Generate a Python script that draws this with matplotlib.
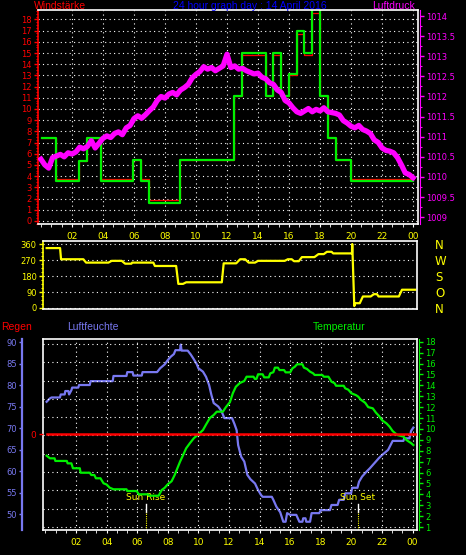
import numpy as np
import matplotlib
matplotlib.use('Agg')
import matplotlib.pyplot as plt
import matplotlib.transforms as mtransforms
from matplotlib.ticker import MultipleLocator

plt.rcParams['font.family'] = ['Liberation Sans Narrow', 'DejaVu Sans']

# ---- data ----
# wind (step changes: hour, value)
wind_hours = [0.04, 0.95, 2.45, 2.95, 3.9, 5.96, 6.45, 6.95, 8.97, 12.45, 12.99, 14.5,
              14.99, 15.48, 16.0, 16.5, 16.99, 17.46, 18.0, 18.5, 19.01, 19.98, 23.98]
wind_gust = [7.44, 3.6, 5.39, 7.44, 3.6, 5.45, 3.6, 1.64, 5.45, 11.13, 15.03, 11.13,
             15.03, 11.13, 13.1, 16.96, 15.03, 19.5, 11.13, 7.44, 5.45, 3.6, 3.6]
wind_avg = [7.44, 3.75, 5.39, 7.44, 3.75, 5.45, 3.75, 1.87, 5.45, 11.13, 14.82, 11.13,
            14.82, 11.13, 13.0, 16.67, 14.82, 18.54, 11.13, 7.44, 5.45, 3.75, 3.75]

press_hours = np.arange(0, 24.01, 0.25)
pressure = [1010.44, 1010.30, 1010.22, 1010.48, 1010.52, 1010.56, 1010.50, 1010.60,
            1010.57, 1010.62, 1010.74, 1010.70, 1010.76, 1010.90, 1010.72, 1010.84,
            1010.96, 1011.02, 1010.98, 1011.08, 1011.12, 1011.05, 1011.22, 1011.28,
            1011.45, 1011.52, 1011.46, 1011.55, 1011.65, 1011.74, 1011.90, 1012.00,
            1011.96, 1012.06, 1012.10, 1012.04, 1012.16, 1012.22, 1012.30, 1012.46,
            1012.55, 1012.62, 1012.74, 1012.68, 1012.72, 1012.64, 1012.70, 1012.76,
            1013.05, 1012.72, 1012.76, 1012.68, 1012.70, 1012.64, 1012.60, 1012.56,
            1012.58, 1012.48, 1012.44, 1012.34, 1012.30, 1012.16, 1012.10, 1011.90,
            1011.84, 1011.72, 1011.62, 1011.58, 1011.64, 1011.70, 1011.62, 1011.68,
            1011.64, 1011.72, 1011.62, 1011.60, 1011.58, 1011.54, 1011.40, 1011.34,
            1011.26, 1011.22, 1011.28, 1011.18, 1011.14, 1011.08, 1010.92, 1010.86,
            1010.72, 1010.66, 1010.64, 1010.60, 1010.48, 1010.30, 1010.10, 1010.06,
            1009.98]

dir_hours = [0.38, 1.24, 1.3, 2.73, 2.9, 4.33, 4.54, 5.18, 5.4, 5.8, 5.85, 7.2, 7.3, 8.66,
             8.8, 9.1, 9.3, 11.58, 11.7, 12.5, 12.75, 13.07, 13.3, 13.7, 13.9, 15.6, 15.8,
             16.05, 16.2, 16.5, 16.7, 17.5, 17.76, 18.1, 18.3, 18.6, 18.7, 19.9, 19.92,
             20.05, 20.1, 20.4, 20.6, 21.1, 21.3, 21.5, 21.6, 22.9, 23.1, 23.95]
dir_deg = [338, 338, 275, 275, 256, 256, 266, 266, 250, 250, 256, 256, 237, 237,
           136, 136, 145, 145, 252, 252, 275, 275, 256, 256, 266, 266, 275,
           275, 264, 264, 287, 287, 304, 304, 317, 317, 308, 308, 361,
           11, 27, 27, 65, 65, 78, 78, 65, 65, 103, 103]

hum_hours = [0.08, 0.3, 0.4, 0.95, 1.0, 1.26, 1.3, 1.5, 1.55, 1.7, 1.75, 2.15, 2.2, 2.9,
             2.95, 4.4, 4.45, 5.3, 5.35, 5.7, 5.75, 6.3, 6.35, 7.3, 7.5, 7.8, 8.0, 8.2,
             8.4, 8.5, 8.8, 8.85, 8.9, 9.3, 9.5, 9.7, 9.9, 10.0, 10.3, 10.5, 10.7, 10.85,
             11.0, 11.3, 11.5, 11.7, 12.2, 12.35, 12.5, 12.6, 12.8, 13.0, 13.2, 13.4,
             13.7, 13.9, 14.1, 14.2, 14.8, 14.9, 15.1, 15.35, 15.55, 15.7, 15.8, 16.0,
             16.4, 16.5, 16.6, 16.8, 16.85, 17.0, 17.05, 17.3, 17.4, 17.9, 18.0, 18.6,
             18.7, 19.1, 19.2, 19.5, 19.6, 19.98, 20.05, 20.4, 20.5, 20.7, 20.95, 21.2,
             21.5, 21.8, 22.0, 22.4, 22.7, 23.4, 23.45, 23.8, 23.9, 24.05]
humidity = [76.1, 76.9, 77.1, 77.1, 77.8, 77.8, 78.6, 78.6, 77.8, 78.8, 79.4, 79.4, 80.0, 80.0,
            80.9, 80.9, 82.1, 82.1, 83.0, 83.0, 82.2, 82.2, 83.0, 83.0, 83.9, 84.8, 85.8, 86.6,
            87.2, 88.1, 88.1, 89.4, 88.0, 88.0, 87.1, 86.0, 84.8, 83.9, 83.1, 81.9, 80.0, 77.7,
            75.8, 75.0, 74.0, 72.3, 72.3, 71.0, 69.5, 66.0, 63.3, 62.2, 59.1, 58.1,
            57.1, 55.6, 54.4, 54.0, 54.0, 53.3, 51.7, 50.4, 48.2, 48.2, 50.2, 49.8,
            49.8, 49.0, 48.2, 48.2, 49.0, 49.0, 48.2, 48.2, 50.2, 50.2, 50.9, 50.9,
            52.1, 52.1, 53.3, 53.3, 54.8, 54.8, 56.1, 56.1, 57.5, 58.7, 59.7, 60.6,
            61.8, 63.0, 63.7, 64.9, 67.0, 67.0, 67.6, 67.6, 69.3, 70.1]

temp_hours = [0.08, 0.3, 0.6, 0.65, 1.4, 1.45, 1.7, 1.8, 2.25, 2.3, 2.9, 3.0, 3.2, 3.3, 3.6,
              3.8, 4.0, 4.2, 4.45, 5.3, 5.35, 5.97, 6.1, 6.7, 6.8, 7.4, 7.6, 7.8, 8.0, 8.25,
              8.45, 8.6, 8.8, 9.0, 9.2, 9.45, 9.7, 10.0, 10.3, 10.5, 10.75, 11.0, 11.2, 11.6,
              11.8, 12.06, 12.25, 12.45, 12.7, 13.0, 13.15, 13.6, 13.7, 13.8, 13.9, 14.2,
              14.3, 14.6, 14.7, 14.9, 15.0, 15.2, 15.3, 15.6, 15.7, 16.0, 16.15, 16.3,
              16.45, 16.8, 16.9, 17.1, 17.3, 17.5, 17.6, 18.1, 18.2, 18.5, 18.7, 18.9,
              19.0, 19.5, 19.6, 19.8, 20.0, 20.3, 20.45, 20.6, 20.9, 21.1, 21.4, 21.6,
              21.8, 22.0, 22.3, 22.5, 22.7, 23.0, 23.4, 23.6, 23.9, 24.05]
temperature = [7.54, 7.30, 7.30, 7.06, 7.06, 6.84, 6.84, 6.39, 6.39, 5.98, 5.98, 5.77, 5.77, 5.47, 5.47,
               5.01, 4.9, 4.61, 4.46, 4.46, 4.30, 4.30, 4.0, 4.0, 3.87, 3.87, 4.39, 4.6, 4.92, 5.2,
               5.77, 6.3, 6.99, 7.6, 8.22, 8.7, 9.14, 9.5, 9.9, 10.4, 11.0, 11.28, 11.58, 11.58,
               12.0, 12.45, 13.27, 13.87, 14.2, 14.4, 14.79, 14.79, 14.58, 14.6, 15.01, 15.01,
               14.73, 14.73, 15.1, 15.2, 15.62, 15.62, 15.4, 15.4, 15.19, 15.19, 15.56, 15.7,
               15.93, 15.93, 15.62, 15.5, 15.25, 15.1, 14.95, 14.95, 14.79, 14.79, 14.33, 14.2,
               13.96, 13.96, 13.72, 13.6, 13.27, 13.1, 12.96, 12.7, 12.4, 12.0, 11.89, 11.5,
               11.2, 10.8, 10.5, 10.2, 9.8, 9.44, 9.3, 8.98, 8.7, 8.52]

rain_hours = [0.08, 24.15]
rain = [0, 0]

sun_rise = 6.57
sun_set = 20.43

hour_ticks = list(range(2, 25, 2))
hour_labels = ['02', '04', '06', '08', '10', '12', '14', '16', '18', '20', '22', '00']
wind_ticks = list(range(0, 19))
press_ticks = [1009, 1009.5, 1010, 1010.5, 1011, 1011.5, 1012, 1012.5, 1013, 1013.5, 1014]
press_labels = ['1009', '1009.5', '1010', '1010.5', '1011', '1011.5', '1012', '1012.5',
                '1013', '1013.5', '1014']
dir_ticks = [0, 90, 180, 270, 360]
compass = ['N', 'O', 'S', 'W', 'N']
hum_ticks = list(range(50, 91, 5))
temp_ticks = list(range(1, 19))

# ---- colours ----
GREEN = '#00f000'
MAGENTA = '#ff00ff'
YELLOW = '#ffff00'
HUMID = '#7878f0'
DOT = (0, (1, 3))
TITLE_FONT = ['Liberation Sans', 'DejaVu Sans']

W, H = 466, 555
fig = plt.figure(figsize=(W / 100, H / 100), dpi=100, facecolor='black')


def box(l, t, r, b):
    return [l / W, 1 - b / H, (r - l) / W, (b - t) / H]


# ---------- top panel: wind + pressure ----------
ax1 = fig.add_axes(box(38, 10, 418, 224), facecolor='black')
ax1.step(wind_hours, wind_avg, where='post', color='red', lw=0.9)
ax1.step(wind_hours, wind_gust, where='post', color=GREEN, lw=1.6)
ax1.set_xlim(-0.19, 24.32)
ax1.set_ylim(-0.27, 18.84)
ax1.set_yticks(wind_ticks)
ax1.yaxis.set_minor_locator(MultipleLocator(0.25))
ax1.set_xticks(hour_ticks)
ax1.set_xticklabels(hour_labels)
ax1.xaxis.set_minor_locator(MultipleLocator(2 / 3))
ax1.tick_params(axis='y', colors='red', labelsize=6, length=3, width=1, pad=1.5)
ax1.tick_params(axis='y', which='minor', colors='red', length=1.2, width=0.8)
ax1.tick_params(axis='x', colors='white', labelcolor=YELLOW, labelsize=6.5, length=2.5, pad=3)
ax1.tick_params(axis='x', which='minor', colors='white', length=2.5)
ax1.grid(True, color='white', ls=DOT, lw=0.8)
for s in ['top', 'bottom', 'right']:
    ax1.spines[s].set_color('white')
    ax1.spines[s].set_linewidth(1.2)
ax1.spines['left'].set_color('red')
ax1.spines['left'].set_linewidth(1.2)

ax1p = ax1.twinx()
ax1p.plot(press_hours, pressure, color=MAGENTA, lw=3.8)
ax1p.set_ylim(1008.83, 1014.15)
ax1p.set_yticks(press_ticks)
ax1p.set_yticklabels(press_labels)
ax1p.yaxis.set_minor_locator(MultipleLocator(0.25))
ax1p.tick_params(axis='y', colors=MAGENTA, labelsize=6, length=3, width=1, pad=1.5)
ax1p.tick_params(axis='y', which='minor', colors=MAGENTA, length=1.2, width=0.8)
for s in ['top', 'bottom', 'left']:
    ax1p.spines[s].set_visible(False)
ax1p.spines['right'].set_color(MAGENTA)
ax1p.spines['right'].set_position(('outward', 1.5))

# ---------- middle panel: wind direction ----------
ax2 = fig.add_axes(box(43, 241, 417, 309), facecolor='black')
ax2.plot(dir_hours, dir_deg, color=YELLOW, lw=1.6)
ax2.set_xlim(0.147, 24.06)
ax2.set_ylim(-5.7, 378)
ax2.set_yticks(dir_ticks)
ax2.yaxis.set_minor_locator(MultipleLocator(22.5))
ax2.set_xticks([])
ax2.tick_params(axis='y', colors=YELLOW, labelsize=6, length=3, width=1, pad=1.5)
ax2.tick_params(axis='y', which='minor', colors=YELLOW, length=1.2, width=0.8)
ax2.grid(True, axis='y', color='white', ls=DOT, lw=0.8)
for s in ['top', 'bottom', 'right']:
    ax2.spines[s].set_color('white')
    ax2.spines[s].set_linewidth(1.2)
ax2.spines['left'].set_color(YELLOW)
ax2.spines['left'].set_linewidth(1.2)

ax2c = ax2.twinx()
ax2c.set_ylim(-5.7, 378)
ax2c.set_yticks(dir_ticks)
ax2c.set_yticklabels(compass)
ax2c.tick_params(axis='y', length=0, labelcolor=YELLOW, labelsize=8.5, pad=13)
for s in ax2c.spines.values():
    s.set_visible(False)

# ---------- bottom panel: humidity, temperature, rain ----------
ax3 = fig.add_axes(box(43, 339, 417, 530), facecolor='black')
ax3.plot(hum_hours, humidity, color=HUMID, lw=1.6)
ax3.set_xlim(-0.157, 24.29)
ax3.set_ylim(46.28, 90.7)
ax3.set_yticks(hum_ticks)
ax3.set_xticks(hour_ticks)
ax3.set_xticklabels(hour_labels)
ax3.xaxis.set_minor_locator(MultipleLocator(2 / 3))
ax3.tick_params(axis='y', colors=HUMID, labelsize=6, length=2, width=1, pad=1.5)
ax3.tick_params(axis='x', colors='white', labelcolor=YELLOW, labelsize=6.5, length=2.5, pad=3)
ax3.tick_params(axis='x', which='minor', colors='white', length=2.5)
ax3.grid(True, axis='x', color='white', ls=DOT, lw=0.8)
ax3.hlines(np.linspace(0.016, 0.974, 11), 0, 1, transform=ax3.transAxes,
           colors='white', linestyles=DOT, lw=0.8)
for s in ['top', 'bottom', 'right']:
    ax3.spines[s].set_color('white')
    ax3.spines[s].set_linewidth(1.2)
ax3.spines['left'].set_color(HUMID)
ax3.spines['left'].set_linewidth(1.6)
ax3.spines['left'].set_position(('axes', -21 / 374))

trans = mtransforms.blended_transform_factory(ax3.transData, ax3.transAxes)
for hx, label in [(sun_rise, 'Sun Rise'), (sun_set, 'Sun Set')]:
    ax3.text(hx, 0.17, label, color=YELLOW, fontsize=6.5, ha='center', va='center',
             transform=trans)
    ax3.plot([hx, hx], [0.094, 0.136], color='white', lw=1, transform=trans)
    ax3.plot([hx, hx], [0, 0.094], color=YELLOW, lw=0.8, ls=(0, (1, 1)), transform=trans)

ax3t = ax3.twinx()
ax3t.plot(temp_hours, temperature, color=GREEN, lw=1.6)
ax3t.set_ylim(0.725, 18.25)
ax3t.set_yticks(temp_ticks)
ax3t.yaxis.set_minor_locator(MultipleLocator(0.5))
ax3t.tick_params(axis='y', colors=GREEN, labelsize=6, length=3, width=1, pad=1.5)
ax3t.tick_params(axis='y', which='minor', colors=GREEN, length=1.5, width=0.8)
ax3t.spines['top'].set_visible(False)
ax3t.spines['bottom'].set_visible(False)
ax3t.spines['left'].set_color('white')
ax3t.spines['left'].set_linewidth(1.2)
ax3t.spines['right'].set_color(GREEN)
ax3t.spines['right'].set_position(('outward', 1.5))

ax3r = ax3.twinx()
ax3r.plot(rain_hours, rain, color='red', lw=1.8)
ax3r.set_ylim(-1, 0.99)
ax3r.yaxis.tick_left()
ax3r.set_yticks([0])
ax3r.tick_params(axis='y', colors='red', labelsize=6.5, length=3, width=1, pad=2)
for s in ax3r.spines.values():
    s.set_visible(False)

# ---------- header texts ----------
fig.text(34 / W, 1 - 6 / H, 'Windstärke', color='red', fontsize=7.5, va='center',
         family=TITLE_FONT)
fig.text(250 / W, 1 - 6 / H, '24 hour graph day : 14 April 2016', color='#0000ff',
         fontsize=7.5, va='center', ha='center', family=TITLE_FONT)
fig.text(372 / W, 1 - 6 / H, 'Luftdruck', color=MAGENTA, fontsize=7.5, va='center',
         family=TITLE_FONT)
fig.text(1 / W, 1 - 327 / H, 'Regen', color='red', fontsize=7.5, va='center',
         family=TITLE_FONT)
fig.text(67 / W, 1 - 327 / H, 'Luftfeuchte', color=HUMID, fontsize=7.5, va='center',
         family=TITLE_FONT)
fig.text(313 / W, 1 - 327 / H, 'Temperatur', color=GREEN, fontsize=7.5, va='center',
         family=TITLE_FONT)

fig.savefig('out.png', dpi=100, facecolor='black')
